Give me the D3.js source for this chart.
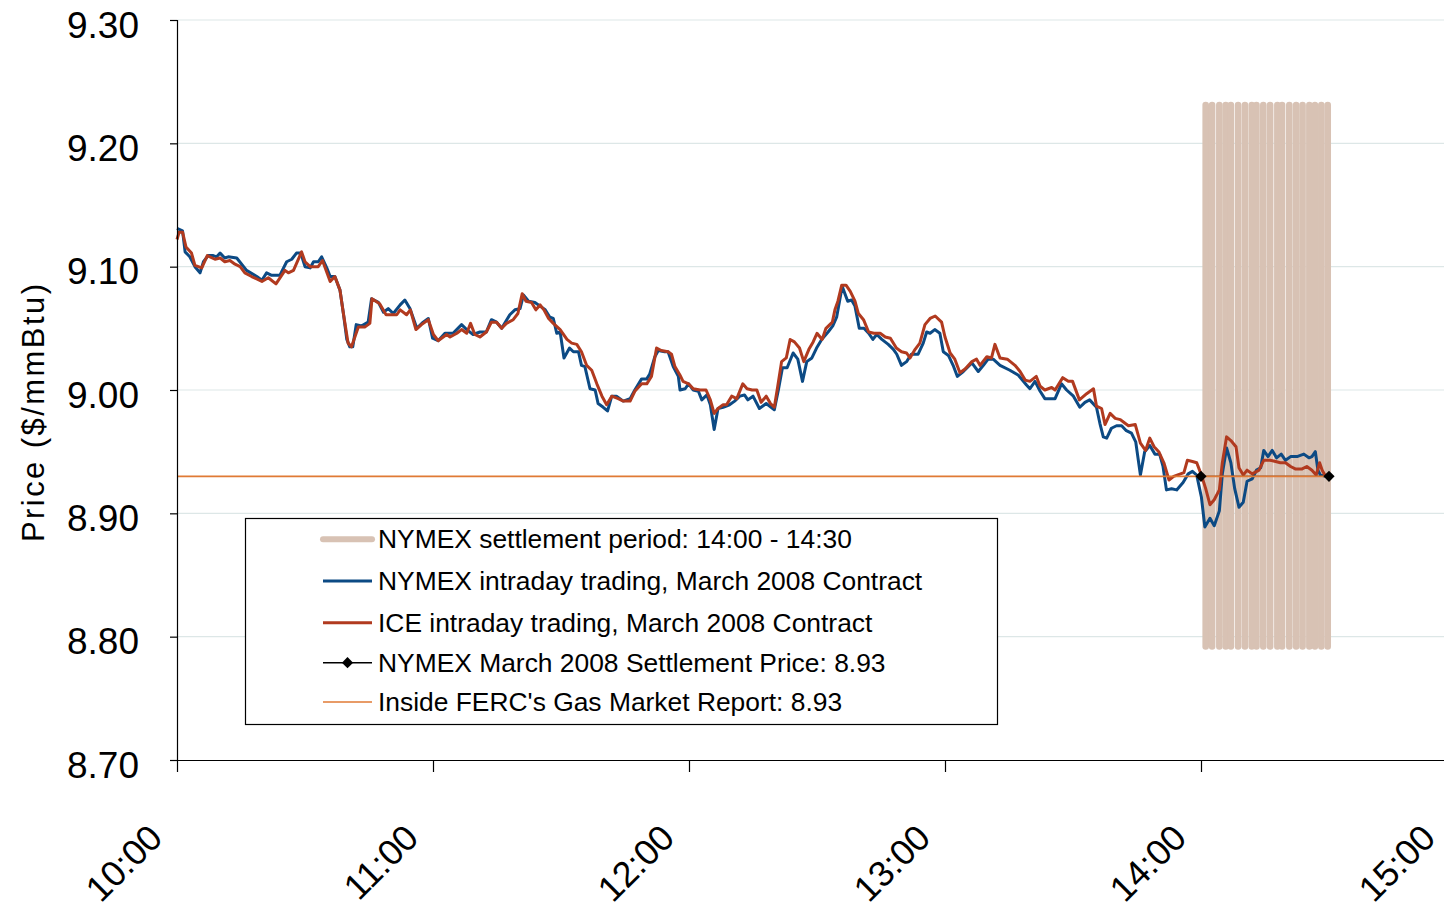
<!DOCTYPE html>
<html>
<head>
<meta charset="utf-8">
<script src="https://cdn.jsdelivr.net/npm/d3@7"></script>
<style>
  body { margin: 0; background: #fff; }
  svg { display: block; font-family: Arial, "Liberation Sans", sans-serif; }
</style>
</head>
<body>
<svg id="chart" width="1444" height="911"></svg>
<script>
// minutes after 10:00, price in $/mmBtu
const nymex = [
  [0,9.131],[1.3,9.129],[1.9,9.112],[3,9.108],[4.2,9.100],[5.4,9.095],[6.2,9.104],[7.3,9.109],[8.5,9.109],[9.3,9.108],
  [10.1,9.111],[11.2,9.107],[12,9.108],[14,9.107],[16.3,9.097],[18.7,9.092],[19.9,9.089],[21,9.095],[22.2,9.093],[24.1,9.093],
  [25.7,9.104],[26.9,9.106],[28,9.111],[29,9.111],[30,9.100],[31.2,9.099],[32,9.104],[33.1,9.104],[33.9,9.108],[35.1,9.099],
  [35.9,9.092],[37,9.092],[38.2,9.081],[39,9.062],[39.8,9.041],[40.5,9.035],[41.2,9.035],[42,9.053],[43.3,9.052],[44.8,9.055],
  [45.6,9.074],[47.2,9.071],[48.4,9.063],[49.5,9.066],[50.7,9.062],[52.3,9.069],[53.4,9.073],[54.6,9.066],[56.2,9.050],[57.7,9.055],
  [58.9,9.058],[59.9,9.042],[61.2,9.040],[62.8,9.046],[64.7,9.046],[66.7,9.053],[67.9,9.049],[69.4,9.045],[71,9.047],[72.5,9.047],
  [73.7,9.057],[74.9,9.055],[76.1,9.050],[78,9.061],[79.2,9.065],[80.4,9.066],[81.2,9.077],[82.4,9.072],[83.9,9.071],[85.1,9.068],
  [86.3,9.065],[87.4,9.059],[88.2,9.058],[89,9.046],[89.8,9.047],[90.7,9.026],[92,9.034],[92.9,9.031],[94.1,9.031],[94.8,9.020],
  [95.6,9.019],[96.8,9.001],[98,9.000],[98.7,8.989],[99.9,8.986],[100.9,8.983],[101.9,8.995],[103,8.995],[104.6,8.991],[106.2,8.993],
  [107.3,9.000],[108.9,9.009],[110.1,9.009],[110.8,9.013],[112,9.027],[112.8,9.032],[114.3,9.031],[115.1,9.031],[116.3,9.019],[117.5,9.011],
  [117.9,9.000],[119.1,9.001],[119.9,9.005],[121,9.000],[122.2,8.999],[123,8.992],[124.2,8.996],[125,8.988],[125.9,8.968],[126.8,8.985],
  [128,8.986],[129.5,8.988],[130.7,8.991],[131.9,8.995],[133,8.996],[133.8,8.992],[135,8.995],[136.5,8.985],[138.1,8.989],[140,8.984],
  [141,9.001],[141.9,9.018],[143,9.018],[144.4,9.030],[145.5,9.025],[146.6,9.007],[147.6,9.023],[148.8,9.026],[149.9,9.034],[151.1,9.041],
  [152.6,9.047],[153.7,9.052],[154.6,9.059],[155.9,9.084],[157.2,9.072],[158.1,9.073],[158.9,9.068],[159.9,9.050],[161,9.050],[162.1,9.046],
  [163.1,9.041],[164,9.045],[165.2,9.041],[166.7,9.037],[167.9,9.033],[168.7,9.029],[169.8,9.020],[171,9.023],[172.1,9.029],[173.7,9.029],
  [174.9,9.038],[175.7,9.047],[176.5,9.046],[177.6,9.049],[178.8,9.046],[179.6,9.031],[180.8,9.028],[181.9,9.020],[182.9,9.011],[184.3,9.015],
  [186.3,9.022],[187.8,9.015],[189,9.020],[190.1,9.025],[191.3,9.025],[192.9,9.020],[195.2,9.016],[197.2,9.012],[199.1,9.004],[199.9,9.001],
  [201.1,9.007],[202.3,8.999],[203.4,8.993],[205.8,8.993],[207.3,9.005],[208.5,9.000],[210.1,8.995],[211.6,8.986],[212.8,8.990],[213.9,8.992],
  [215.5,8.986],[216.3,8.973],[217.1,8.962],[217.9,8.961],[219,8.969],[220.2,8.971],[221.4,8.971],[222.5,8.967],[223.7,8.965],[224.7,8.958],
  [225.8,8.931],[226.8,8.950],[228,8.955],[229.2,8.948],[230.3,8.948],[231.1,8.938],[231.9,8.919],[233.1,8.920],[234.3,8.919],[235.8,8.925],
  [237,8.932],[238,8.934],[239,8.931],[240.1,8.913],[240.9,8.889],[242.1,8.896],[243.1,8.890],[244.3,8.902],[245,8.932],[246,8.953],
  [247,8.941],[247.9,8.920],[248.9,8.905],[249.9,8.909],[250.8,8.926],[252,8.928],[253,8.935],[254,8.937],[254.7,8.951],[255.7,8.946],
  [256.7,8.951],[257.7,8.945],[258.8,8.948],[259.8,8.943],[261,8.946],[262.5,8.946],[264.1,8.948],[265.3,8.945],[266,8.946],[266.8,8.950],
  [267.4,8.935],[268,8.931],[269.2,8.930]
];

const ice = [
  [0,9.122],[0.5,9.128],[1.3,9.128],[2.1,9.116],[3.4,9.111],[4.2,9.101],[5.8,9.099],[7.1,9.109],[8.9,9.106],[10.1,9.107],
  [11.2,9.104],[12.4,9.105],[13.6,9.102],[14.8,9.100],[15.9,9.095],[17.5,9.092],[19.9,9.088],[21.4,9.091],[23.2,9.086],[25.3,9.097],
  [26.1,9.095],[27.3,9.097],[29.2,9.112],[30,9.104],[31.2,9.100],[33.1,9.100],[34.1,9.105],[35.9,9.088],[37,9.092],[38.2,9.081],
  [39,9.062],[40.1,9.038],[40.9,9.035],[42.5,9.051],[44,9.051],[45.2,9.054],[45.7,9.074],[47.5,9.070],[49,9.061],[51.5,9.061],
  [52.3,9.065],[53.8,9.061],[54.7,9.065],[56,9.049],[57.3,9.053],[58.9,9.057],[60.1,9.045],[61.2,9.040],[63.2,9.045],[64,9.043],
  [65.6,9.046],[66.7,9.049],[67.9,9.046],[68.8,9.054],[69.8,9.045],[71,9.043],[72.5,9.047],[73.7,9.055],[74.9,9.055],[76.1,9.050],
  [77.2,9.054],[78.8,9.057],[79.9,9.062],[80.9,9.078],[81.8,9.072],[83.1,9.071],[84.1,9.065],[85.1,9.069],[86,9.065],[87.1,9.058],
  [88.2,9.054],[89.8,9.049],[91.4,9.041],[92.5,9.038],[93.7,9.037],[94.8,9.031],[96,9.020],[97.2,9.016],[98.4,9.005],[99.6,8.995],
  [100.7,8.988],[101.9,8.995],[103.4,8.993],[104.6,8.991],[106.2,8.991],[107.3,8.999],[108.9,9.005],[110.1,9.005],[111.2,9.011],[112.4,9.034],
  [113.5,9.032],[115.1,9.031],[115.9,9.029],[116.7,9.019],[117.9,9.012],[118.6,9.007],[119.9,9.005],[121,9.001],[122.6,9.000],[124,9.000],
  [125,8.992],[125.9,8.981],[126.8,8.985],[128,8.988],[128.8,8.988],[130,8.995],[131.2,8.993],[132.6,9.005],[133.6,9.001],[134.8,9.000],
  [135.9,9.000],[136.9,8.990],[138.1,8.995],[139.1,8.989],[140,8.986],[140.8,9.003],[141.7,9.023],[142.8,9.026],[143.7,9.041],[144.7,9.039],
  [145.9,9.034],[146.9,9.023],[148.1,9.033],[149.1,9.039],[150,9.046],[151.2,9.041],[152.1,9.050],[153.6,9.055],[154.2,9.065],[154.9,9.072],
  [155.8,9.085],[156.8,9.085],[157.8,9.080],[158.9,9.072],[159.7,9.062],[160.9,9.057],[162.1,9.047],[163.3,9.046],[164.8,9.046],[166,9.043],
  [167.2,9.042],[168.6,9.034],[169.8,9.031],[171,9.030],[171.8,9.026],[173,9.033],[174.1,9.038],[175.3,9.053],[176.5,9.058],[177.7,9.060],
  [179.2,9.055],[180,9.043],[181.2,9.030],[182.3,9.025],[183.5,9.014],[184.7,9.017],[186.3,9.023],[187.4,9.025],[188.2,9.020],[189.8,9.027],
  [190.9,9.026],[191.7,9.037],[192.9,9.026],[194.6,9.025],[196.4,9.020],[197.6,9.015],[198.8,9.008],[199.9,9.007],[201.4,9.011],[202.3,9.003],
  [203.4,9.000],[205,9.002],[205.8,9.000],[207.6,9.010],[208.9,9.007],[209.9,9.007],[211.5,8.992],[213.2,8.997],[214.8,9.001],[215.5,8.987],
  [216.7,8.985],[217.5,8.972],[218.7,8.981],[219.9,8.977],[221.1,8.976],[222.2,8.973],[223,8.971],[224.6,8.972],[225.8,8.957],[227,8.951],
  [228,8.961],[229,8.954],[230.1,8.950],[231.3,8.941],[232.5,8.927],[233.6,8.930],[235.2,8.932],[236,8.933],[236.8,8.943],[238,8.942],
  [239,8.941],[240.1,8.931],[241.1,8.920],[242.1,8.907],[243.1,8.911],[244.3,8.919],[245,8.941],[246,8.962],[247,8.959],[248.2,8.954],
  [248.9,8.937],[249.9,8.931],[250.8,8.935],[252,8.932],[253.6,8.935],[254.7,8.943],[256.2,8.943],[257.5,8.942],[258.6,8.941],[259.8,8.941],
  [261,8.938],[262.1,8.936],[263.7,8.936],[264.8,8.938],[266,8.935],[267,8.931],[267.8,8.941],[268.4,8.935],[269.2,8.930]
];

// settlement period 14:00 - 14:30: vertical bars at these minutes
const settleTimes = [241.1, 242.6, 244.3, 245.8, 247.0, 248.7, 250.3, 251.9, 253.0, 254.6,
                     256.2, 257.9, 259.0, 260.7, 262.3, 263.8, 265.4, 266.7, 268.2, 269.7];
const settleLow = 8.792, settleHigh = 9.231;

const settlePrice = [[240, 8.93], [270, 8.93]];
const fercPrice = [[0, 8.93], [270, 8.93]];

const yTicks = [8.70, 8.80, 8.90, 9.00, 9.10, 9.20, 9.30];
const xTicks = [0, 60, 120, 180, 240, 300];
const xTickLabels = ["10:00", "11:00", "12:00", "13:00", "14:00", "15:00"];

const legendItems = [
  { label: "NYMEX settlement period: 14:00 - 14:30", type: "band" },
  { label: "NYMEX intraday trading, March 2008 Contract", type: "nymex" },
  { label: "ICE intraday trading, March 2008 Contract", type: "ice" },
  { label: "NYMEX March 2008 Settlement Price: 8.93", type: "settle" },
  { label: "Inside FERC's Gas Market Report: 8.93", type: "ferc" }
];

const COLORS = {
  band: "#d8c2b4",
  nymex: "#0c4a84",
  ice: "#b13a1f",
  settle: "#000",
  ferc: "#e07a35",
  grid: "#dde7e7"
};

const W = 1444;

const svg = d3.select("#chart");

const x = d3.scaleLinear().domain([0, 300]).range([177, 1457]);
const y = d3.scaleLinear().domain([8.70, 9.30]).range([760, 20]);

// grid
svg.append("g")
  .selectAll("line")
  .data(yTicks.slice(1))
  .join("line")
  .attr("x1", x(0)).attr("x2", W)
  .attr("y1", d => y(d)).attr("y2", d => y(d))
  .attr("stroke", COLORS.grid)
  .attr("stroke-width", 1.2);

// settlement band
svg.append("g")
  .selectAll("line")
  .data(settleTimes)
  .join("line")
  .attr("x1", d => x(d)).attr("x2", d => x(d))
  .attr("y1", y(settleLow)).attr("y2", y(settleHigh))
  .attr("stroke", COLORS.band)
  .attr("stroke-width", 6.6)
  .attr("stroke-linecap", "round");

const line = d3.line().x(d => x(d[0])).y(d => y(d[1]));

svg.append("path")
  .datum(nymex)
  .attr("d", line)
  .attr("fill", "none")
  .attr("stroke", COLORS.nymex)
  .attr("stroke-width", 3)
  .attr("stroke-linejoin", "round");

svg.append("path")
  .datum(ice)
  .attr("d", line)
  .attr("fill", "none")
  .attr("stroke", COLORS.ice)
  .attr("stroke-width", 3)
  .attr("stroke-linejoin", "round");

svg.append("path")
  .datum(settlePrice)
  .attr("d", line)
  .attr("fill", "none")
  .attr("stroke", COLORS.settle)
  .attr("stroke-width", 1.2);

svg.append("path")
  .datum(fercPrice)
  .attr("d", line)
  .attr("fill", "none")
  .attr("stroke", COLORS.ferc)
  .attr("stroke-width", 1.6);

const diamond = d3.symbol().type(d3.symbolDiamond2).size(80);

svg.append("g")
  .selectAll("path")
  .data(settlePrice)
  .join("path")
  .attr("d", diamond)
  .attr("transform", d => `translate(${x(d[0])},${y(d[1])})`)
  .attr("fill", COLORS.settle);

// axes
const yAxis = svg.append("g")
  .attr("transform", `translate(${x(0)},0)`)
  .call(d3.axisLeft(y).tickValues(yTicks).tickSize(7).tickFormat(d3.format(".2f")));

yAxis.select(".domain").attr("stroke", "#000").attr("stroke-width", 1.2);
yAxis.selectAll(".tick line").attr("stroke", "#000").attr("stroke-width", 1.2);
yAxis.selectAll(".tick text")
  .attr("x", -38)
  .attr("dy", null)
  .attr("y", 17)
  .attr("font-size", 37)
  .attr("font-family", "Arial, 'Liberation Sans', sans-serif")
  .attr("fill", "#000");

const xAxis = svg.append("g")
  .attr("transform", `translate(0,${y(8.70)})`)
  .call(d3.axisBottom(x).tickValues(xTicks).tickSize(12).tickSizeOuter(0)
    .tickFormat((d, i) => xTickLabels[i]));

xAxis.select(".domain").attr("stroke", "#000").attr("stroke-width", 1.2);
xAxis.selectAll(".tick line").attr("stroke", "#000").attr("stroke-width", 1.2);
// the 15:00 tick sits past the right edge, so its label is pulled in to stay inside
xAxis.selectAll(".tick text")
  .attr("x", 0).attr("y", 0).attr("dy", null)
  .attr("text-anchor", "end")
  .attr("transform", d => `translate(${Math.min(-13, W - 7 - x(d))},80) rotate(-45)`)
  .attr("font-size", 36)
  .attr("font-family", "Arial, 'Liberation Sans', sans-serif")
  .attr("fill", "#000");

// y title
svg.append("text")
  .attr("transform", "translate(44,413) rotate(-90)")
  .attr("text-anchor", "middle")
  .attr("font-size", 31)
  .attr("textLength", 258)
  .attr("lengthAdjust", "spacing")
  .text("Price ($/mmBtu)");

// legend
const legend = svg.append("g").attr("transform", "translate(245,518)");

legend.append("rect")
  .attr("x", 0.5).attr("y", 0.5)
  .attr("width", 752).attr("height", 206)
  .attr("fill", "#fff")
  .attr("stroke", "#000")
  .attr("stroke-width", 1.2);

const rowY = [21.3, 63, 104.7, 144.7, 184];

const items = legend.selectAll(".item")
  .data(legendItems)
  .join("g")
  .attr("class", "item")
  .attr("transform", (d, i) => `translate(0,${rowY[i]})`);

items.append("line")
  .attr("x1", 78).attr("x2", 127)
  .attr("y1", 0).attr("y2", 0)
  .attr("stroke", d => COLORS[d.type])
  .attr("stroke-width", d => d.type === "band" ? 6 : (d.type === "nymex" || d.type === "ice") ? 3 : 1.5)
  .attr("stroke-linecap", d => d.type === "band" ? "round" : "butt");

items.filter(d => d.type === "settle")
  .append("path")
  .attr("d", diamond)
  .attr("transform", "translate(102.5,0)")
  .attr("fill", "#000");

items.append("text")
  .attr("x", 133)
  .attr("y", 9)
  .attr("font-size", 26.4)
  .attr("fill", "#000")
  .text(d => d.label);
</script>
</body>
</html>
